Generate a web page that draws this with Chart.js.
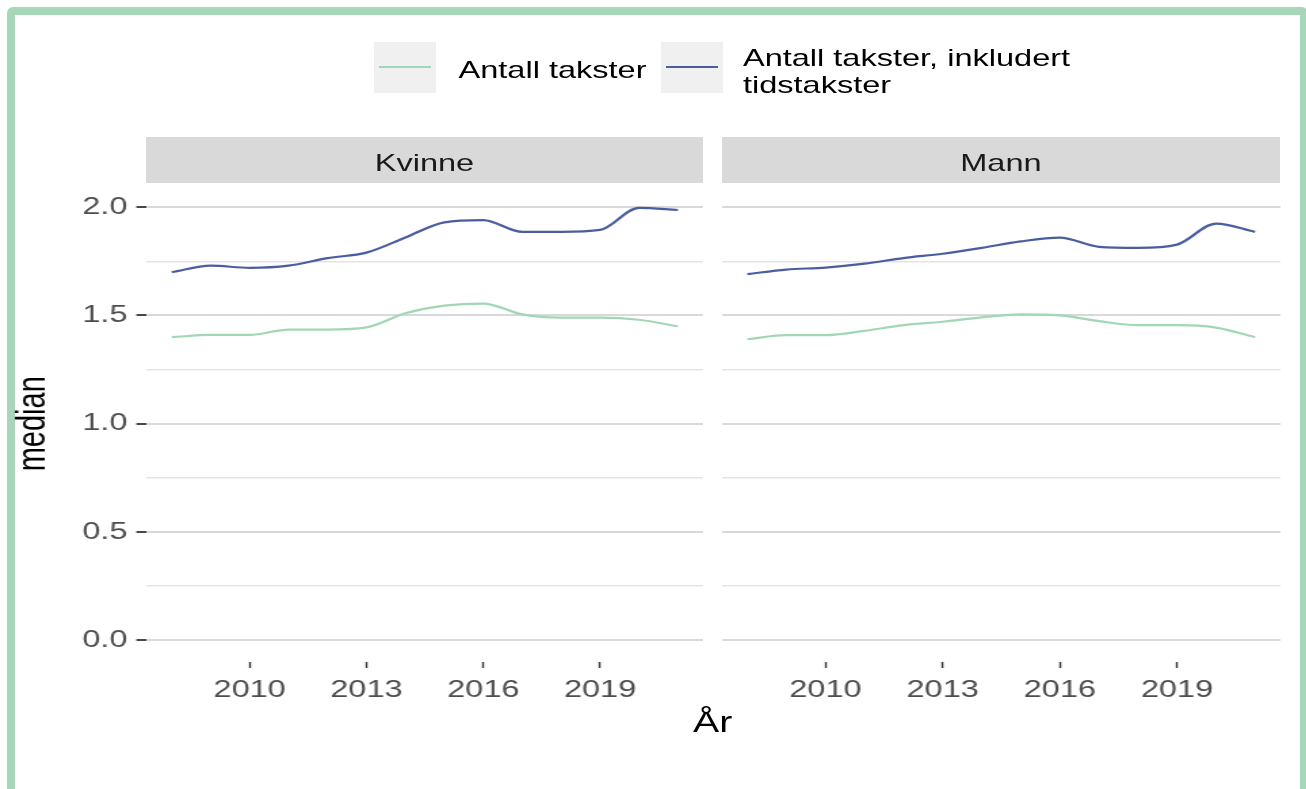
<!DOCTYPE html>
<html lang="no">
<head>
<meta charset="utf-8">
<title>Median antall takster</title>
<script src="https://cdn.jsdelivr.net/npm/chart.js@4/dist/chart.umd.min.js"></script>
<style>
  html, body { margin: 0; padding: 0; background: #ffffff; width: 1306px; height: 789px; overflow: hidden; }
  .frame {
    position: absolute; left: 7px; top: 7px; width: 1285px; height: 800px;
    border: 8px solid #a8d6b9; border-radius: 6px;
  }
  .stripbg { position: absolute; top: 137px; height: 46px; background: #d9d9d9; }
  .keybg { position: absolute; top: 42px; width: 62px; height: 51px; background: #f0f0f0; }
  .keybg span { position: absolute; left: 5px; right: 5px; top: 24.4px; height: 1.9px; }
  /* the figure text and panels are drawn at natural width and widened horizontally */
  .stage {
    position: absolute; left: 0; top: 0; width: 968px; height: 789px;
    transform: scaleX(1.355); transform-origin: 0 0;
    font-family: 'Liberation Sans', Arial, sans-serif;
  }
  .stage canvas { position: absolute; top: 0; }
  .strip {
    position: absolute; top: 139.5px; height: 46px; line-height: 46px;
    color: #1a1a1a; font-size: 24px; text-align: center;
  }
  .ltext { position: absolute; font-size: 24px; color: #000; white-space: nowrap; }
  .xtitle { position: absolute; left: 426px; width: 200px; top: 708px; text-align: center;
            font-size: 29px; line-height: 29px; color: #000; }
</style>
</head>
<body>
<div class="frame"></div>

<div class="stripbg" style="left:146px; width:557px;"></div>
<div class="stripbg" style="left:722px; width:558px;"></div>
<div class="keybg" style="left:374px;"><span style="background:#a2d7b3"></span></div>
<div class="keybg" style="left:661px;"><span style="background:#4a5d9f"></span></div>

<div class="stage">
  <canvas id="kvinne" width="519" height="700" style="left:0px"></canvas>
  <canvas id="mann" width="420" height="700" style="left:525px"></canvas>

  <div class="strip" style="left:107.7px; width:411.1px;">Kvinne</div>
  <div class="strip" style="left:532.8px; width:411.8px;">Mann</div>

  <div class="ltext" style="left:338.4px; top:58px; line-height:24px;">Antall takster</div>
  <div class="ltext" style="left:548.3px; top:43.5px; line-height:27px;">Antall takster, inkludert<br>tidstakster</div>

  <div class="xtitle">År</div>
</div>

<script>
// Years on the x axis
const years = [2008, 2009, 2010, 2011, 2012, 2013, 2014, 2015, 2016, 2017, 2018, 2019, 2020, 2021];

// Median number of fees per contact, women
const kvinneTakster   = [1.40, 1.41, 1.41, 1.435, 1.435, 1.445, 1.51, 1.545, 1.555, 1.505, 1.49, 1.49, 1.48, 1.45];
const kvinneInklTid   = [1.70, 1.73, 1.72, 1.73, 1.765, 1.79, 1.86, 1.93, 1.94, 1.886, 1.886, 1.895, 1.997, 1.987];

// Median number of fees per contact, men
const mannTakster     = [1.39, 1.409, 1.409, 1.429, 1.455, 1.471, 1.491, 1.505, 1.50, 1.474, 1.455, 1.455, 1.444, 1.40];
const mannInklTid     = [1.691, 1.712, 1.721, 1.739, 1.765, 1.785, 1.812, 1.842, 1.859, 1.817, 1.812, 1.827, 1.924, 1.886];

const seriesNames = ['Antall takster', 'Antall takster, inkludert tidstakster'];
const xTickYears  = [2010, 2013, 2016, 2019];
const yTickValues = [0, 0.5, 1, 1.5, 2];
const yTickLabels = ['0.0', '0.5', '1.0', '1.5', '2.0'];
const yMinorValues = [0.25, 0.75, 1.25, 1.75];

const GREEN = '#a2d7b3';
const BLUE  = '#4a5d9f';

Chart.defaults.font.family = "'Liberation Sans', Arial, sans-serif";

const gridValues = yTickValues.concat(yMinorValues).sort((a, b) => a - b);
const isMajor = v => yTickValues.some(t => Math.abs(t - v) < 1e-9);

function points(vals) {
  return years.map((yr, i) => ({ x: yr, y: vals[i] }));
}

function makePanel(id, takster, inkl, first) {
  return new Chart(document.getElementById(id), {
    type: 'line',
    data: {
      datasets: [
        { label: seriesNames[0], data: points(takster), borderColor: GREEN, borderWidth: 2.2,
          pointRadius: 0, fill: false, cubicInterpolationMode: 'monotone' },
        { label: seriesNames[1], data: points(inkl), borderColor: BLUE, borderWidth: 2.2,
          pointRadius: 0, fill: false, cubicInterpolationMode: 'monotone' }
      ]
    },
    options: {
      responsive: false,
      animation: false,
      events: [],
      layout: { padding: { top: 185.5, left: 0, right: 0, bottom: 0 } },
      plugins: { legend: { display: false }, tooltip: { enabled: false }, title: { display: false } },
      scales: {
        x: {
          type: 'linear',
          min: 2007.35,
          max: 2021.65,
          afterBuildTicks: s => { s.ticks = xTickYears.map(v => ({ value: v })); },
          afterFit: s => { s.height = 38; },
          border: { display: false },
          grid: { display: true, drawOnChartArea: false, drawTicks: true,
                  tickLength: 6, tickColor: '#333333', tickWidth: 1.4 },
          ticks: { callback: v => String(v), color: '#4d4d4d', font: { size: 24 },
                   padding: 8, maxRotation: 0, autoSkip: false }
        },
        y: {
          type: 'linear',
          min: -0.1,
          max: 2.1,
          afterBuildTicks: s => { s.ticks = gridValues.map(v => ({ value: v })); },
          afterFit: s => { s.width = first ? 108.1 : 7.8; },
          border: { display: false },
          grid: {
            color: c => isMajor(c.tick.value) ? '#d9d9d9' : '#e4e4e4',
            lineWidth: c => isMajor(c.tick.value) ? 2 : 1.5,
            drawTicks: first,
            tickLength: first ? 7.5 : 0,
            tickColor: c => (first && isMajor(c.tick.value)) ? '#333333' : 'rgba(0,0,0,0)',
            tickWidth: 1.8
          },
          ticks: {
            display: first,
            autoSkip: false,
            color: '#4d4d4d',
            font: { size: 24 },
            padding: 6.5,
            callback: v => {
              const i = yTickValues.findIndex(t => Math.abs(t - v) < 1e-9);
              return i >= 0 ? yTickLabels[i] : '';
            }
          },
          title: {
            display: first,
            text: 'median',
            color: '#000000',
            font: { size: 29 },
            padding: { top: 8, bottom: 0 }
          }
        }
      }
    }
  });
}

makePanel('kvinne', kvinneTakster, kvinneInklTid, true);
makePanel('mann', mannTakster, mannInklTid, false);
</script>
</body>
</html>
